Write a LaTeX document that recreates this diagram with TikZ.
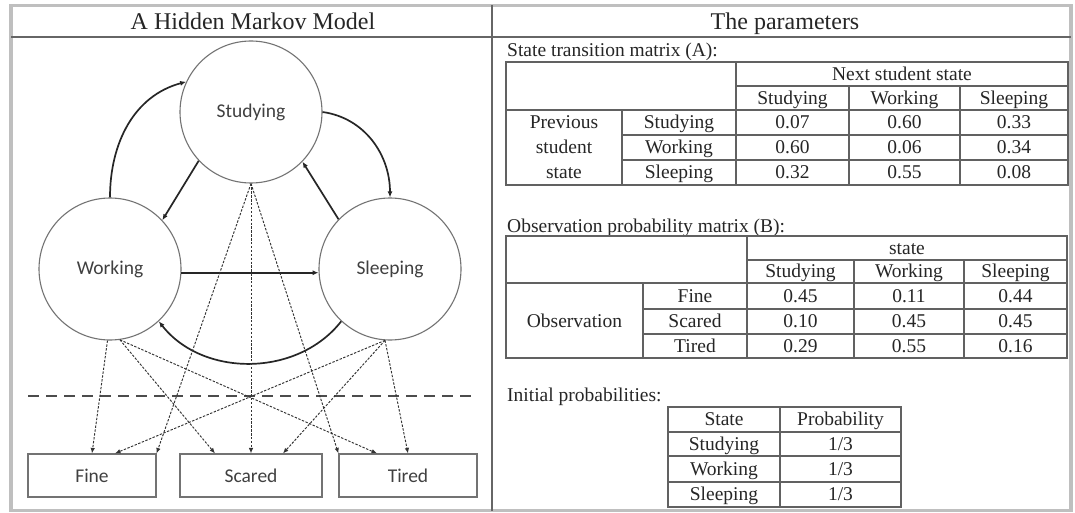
\documentclass[tikz,border=0pt]{standalone}
\usepackage{fontspec}
\setmainfont{Liberation Serif}
\newfontfamily\labelfont{Carlito}
\usetikzlibrary{arrows.meta}
\newcommand\tcell[4]{\node[cell] (#1) at (#2,-#3) {#4};}
\begin{document}
\begin{tikzpicture}[x=1pt,y=1pt,
  state/.style={circle, draw=black!55, line width=1.1pt, minimum size=142pt, inner sep=0pt,
    font=\labelfont\fontsize{19.5}{22}\selectfont, text=black!75},
  obs/.style={rectangle, draw=black!55, line width=1.1pt, minimum height=43pt, inner sep=0pt,
    font=\labelfont\fontsize{19.5}{22}\selectfont, text=black!75},
  trans/.style={line width=1.7pt, draw=black!85, -{Latex[length=6pt,width=5pt]}},
  emit/.style={line width=0.95pt, draw=black!80, dash pattern=on 2.4pt off 1.5pt,
    -{Latex[length=5.5pt,width=4.5pt]}},
  cell/.style={inner sep=0pt, text height=12.9pt, text depth=0pt,
    font=\fontsize{19.5}{22}\selectfont, text=black!85},
  caption/.style={cell, anchor=west},
  heading/.style={inner sep=0pt, text height=16pt, text depth=0pt,
    font=\fontsize{24}{28}\selectfont, text=black!85},
  grid/.style={line width=1.3pt, draw=black!62},
  frame/.style={line width=3.2pt, draw=black!25}]

% page and outer frame
\fill[white] (0,0) rectangle (1075,-513);
\useasboundingbox (0,0) rectangle (1075,-513);
\draw[frame] (11,-5.5) rectangle (1071,-510.5);
\draw[line width=1.4pt, draw=black!60] (11,-37) -- (1071,-37);
\draw[line width=1.4pt, draw=black!60] (492,-5.5) -- (492,-510.5);

% headings
\node[heading] (lefttitle) at (253,-22) {A Hidden Markov Model};
\node[heading] (righttitle) at (785,-22) {The parameters};

% hidden states
\node[state] (study) at (251,-112) {Studying};
\node[state] (work) at (110,-269) {Working};
\node[state] (sleep) at (390,-269) {Sleeping};

% observations
\node[obs, minimum width=128pt] (fine) at (92,-475.5) {Fine};
\node[obs, minimum width=142pt] (scared) at (251,-475.5) {Scared};
\node[obs, minimum width=138pt] (tired) at (408,-475.5) {Tired};

% boundary between hidden and observed layers
\draw[line width=1.8pt, draw=black!70, dash pattern=on 11pt off 7pt] (28,-396) -- (476,-396);

% state transitions
\draw[trans] (work.north) to[out=90, in=195] (study.155);
\draw[trans] (study.223) -- (work.43);
\draw[trans] (study.east) to[out=-8, in=90] (sleep.north);
\draw[trans] (sleep.136) -- (study.316);
\draw[trans] (work.-3) -- (sleep.183);
\draw[trans] (sleep.227) to[out=232, in=308] (work.313);

% emissions
\draw[emit] (work.268) -- (fine.north);
\draw[emit] (work.278) -- ([xshift=-36pt]scared.north);
\draw[emit] (work.278) -- ([xshift=-31pt]tired.north);
\draw[emit] (study.south) -- (fine.north east);
\draw[emit] (study.south) -- (scared.north);
\draw[emit] (study.south) -- (tired.north west);
\draw[emit] (sleep.266) -- ([xshift=23pt]fine.north);
\draw[emit] (sleep.266) -- ([xshift=32pt]scared.north);
\draw[emit] (sleep.266) -- (tired.north);

% ---- transition matrix A ----
\node[caption] (capA) at (507,-50) {State transition matrix (A):};
\draw[grid] (506,-62) rectangle (1068,-185);
\draw[grid] (736,-62) -- (736,-185);
\draw[grid] (736,-86) -- (1068,-86);
\draw[grid] (506,-110) -- (1068,-110);
\draw[grid] (849,-86) -- (849,-185) (960,-86) -- (960,-185);
\draw[grid] (622,-110) -- (622,-185);
\draw[grid] (622,-135) -- (1068,-135) (622,-160) -- (1068,-160);
\tcell{nss}{902}{74}{Next student state}
\tcell{ha1}{792.5}{98}{Studying}
\tcell{ha2}{904.5}{98}{Working}
\tcell{ha3}{1014}{98}{Sleeping}
\tcell{pv1}{564}{122.5}{Previous}
\tcell{pv2}{564}{147.5}{student}
\tcell{pv3}{564}{172.5}{state}
\tcell{ra1}{679}{122.5}{Studying}
\tcell{ra2}{679}{147.5}{Working}
\tcell{ra3}{679}{172.5}{Sleeping}
\tcell{a11}{792.5}{122.5}{0.07}
\tcell{a12}{904.5}{122.5}{0.60}
\tcell{a13}{1014}{122.5}{0.33}
\tcell{a21}{792.5}{147.5}{0.60}
\tcell{a22}{904.5}{147.5}{0.06}
\tcell{a23}{1014}{147.5}{0.34}
\tcell{a31}{792.5}{172.5}{0.32}
\tcell{a32}{904.5}{172.5}{0.55}
\tcell{a33}{1014}{172.5}{0.08}

% ---- observation matrix B ----
\node[caption] (capB) at (507,-226) {Observation probability matrix (B):};
\draw[grid] (506,-236) rectangle (1067,-358);
\draw[grid] (747,-236) -- (747,-358);
\draw[grid] (747,-260) -- (1067,-260);
\draw[grid] (506,-283) -- (1067,-283);
\draw[grid] (854,-260) -- (854,-358) (964,-260) -- (964,-358);
\draw[grid] (643,-283) -- (643,-358);
\draw[grid] (643,-309) -- (1067,-309) (643,-334) -- (1067,-334);
\tcell{st}{907}{248}{state}
\tcell{hb1}{800.5}{271.5}{Studying}
\tcell{hb2}{909}{271.5}{Working}
\tcell{hb3}{1015.5}{271.5}{Sleeping}
\tcell{obsv}{574.5}{321}{Observation}
\tcell{rb1}{695}{296}{Fine}
\tcell{rb2}{695}{321.5}{Scared}
\tcell{rb3}{695}{346}{Tired}
\tcell{b11}{800.5}{296}{0.45}
\tcell{b12}{909}{296}{0.11}
\tcell{b13}{1015.5}{296}{0.44}
\tcell{b21}{800.5}{321.5}{0.10}
\tcell{b22}{909}{321.5}{0.45}
\tcell{b23}{1015.5}{321.5}{0.45}
\tcell{b31}{800.5}{346}{0.29}
\tcell{b32}{909}{346}{0.55}
\tcell{b33}{1015.5}{346}{0.16}

% ---- initial probabilities ----
\node[caption] (capC) at (507,-395) {Initial probabilities:};
\draw[grid] (668,-407) rectangle (901,-507);
\draw[grid] (780,-407) -- (780,-507);
\draw[grid] (668,-432) -- (901,-432) (668,-456) -- (901,-456) (668,-482) -- (901,-482);
\tcell{hc1}{724}{419.5}{State}
\tcell{hc2}{840.5}{419.5}{Probability}
\tcell{c1}{724}{444}{Studying}
\tcell{p1}{840.5}{444}{1/3}
\tcell{c2}{724}{469}{Working}
\tcell{p2}{840.5}{469}{1/3}
\tcell{c3}{724}{494.5}{Sleeping}
\tcell{p3}{840.5}{494.5}{1/3}
\end{tikzpicture}
\end{document}
